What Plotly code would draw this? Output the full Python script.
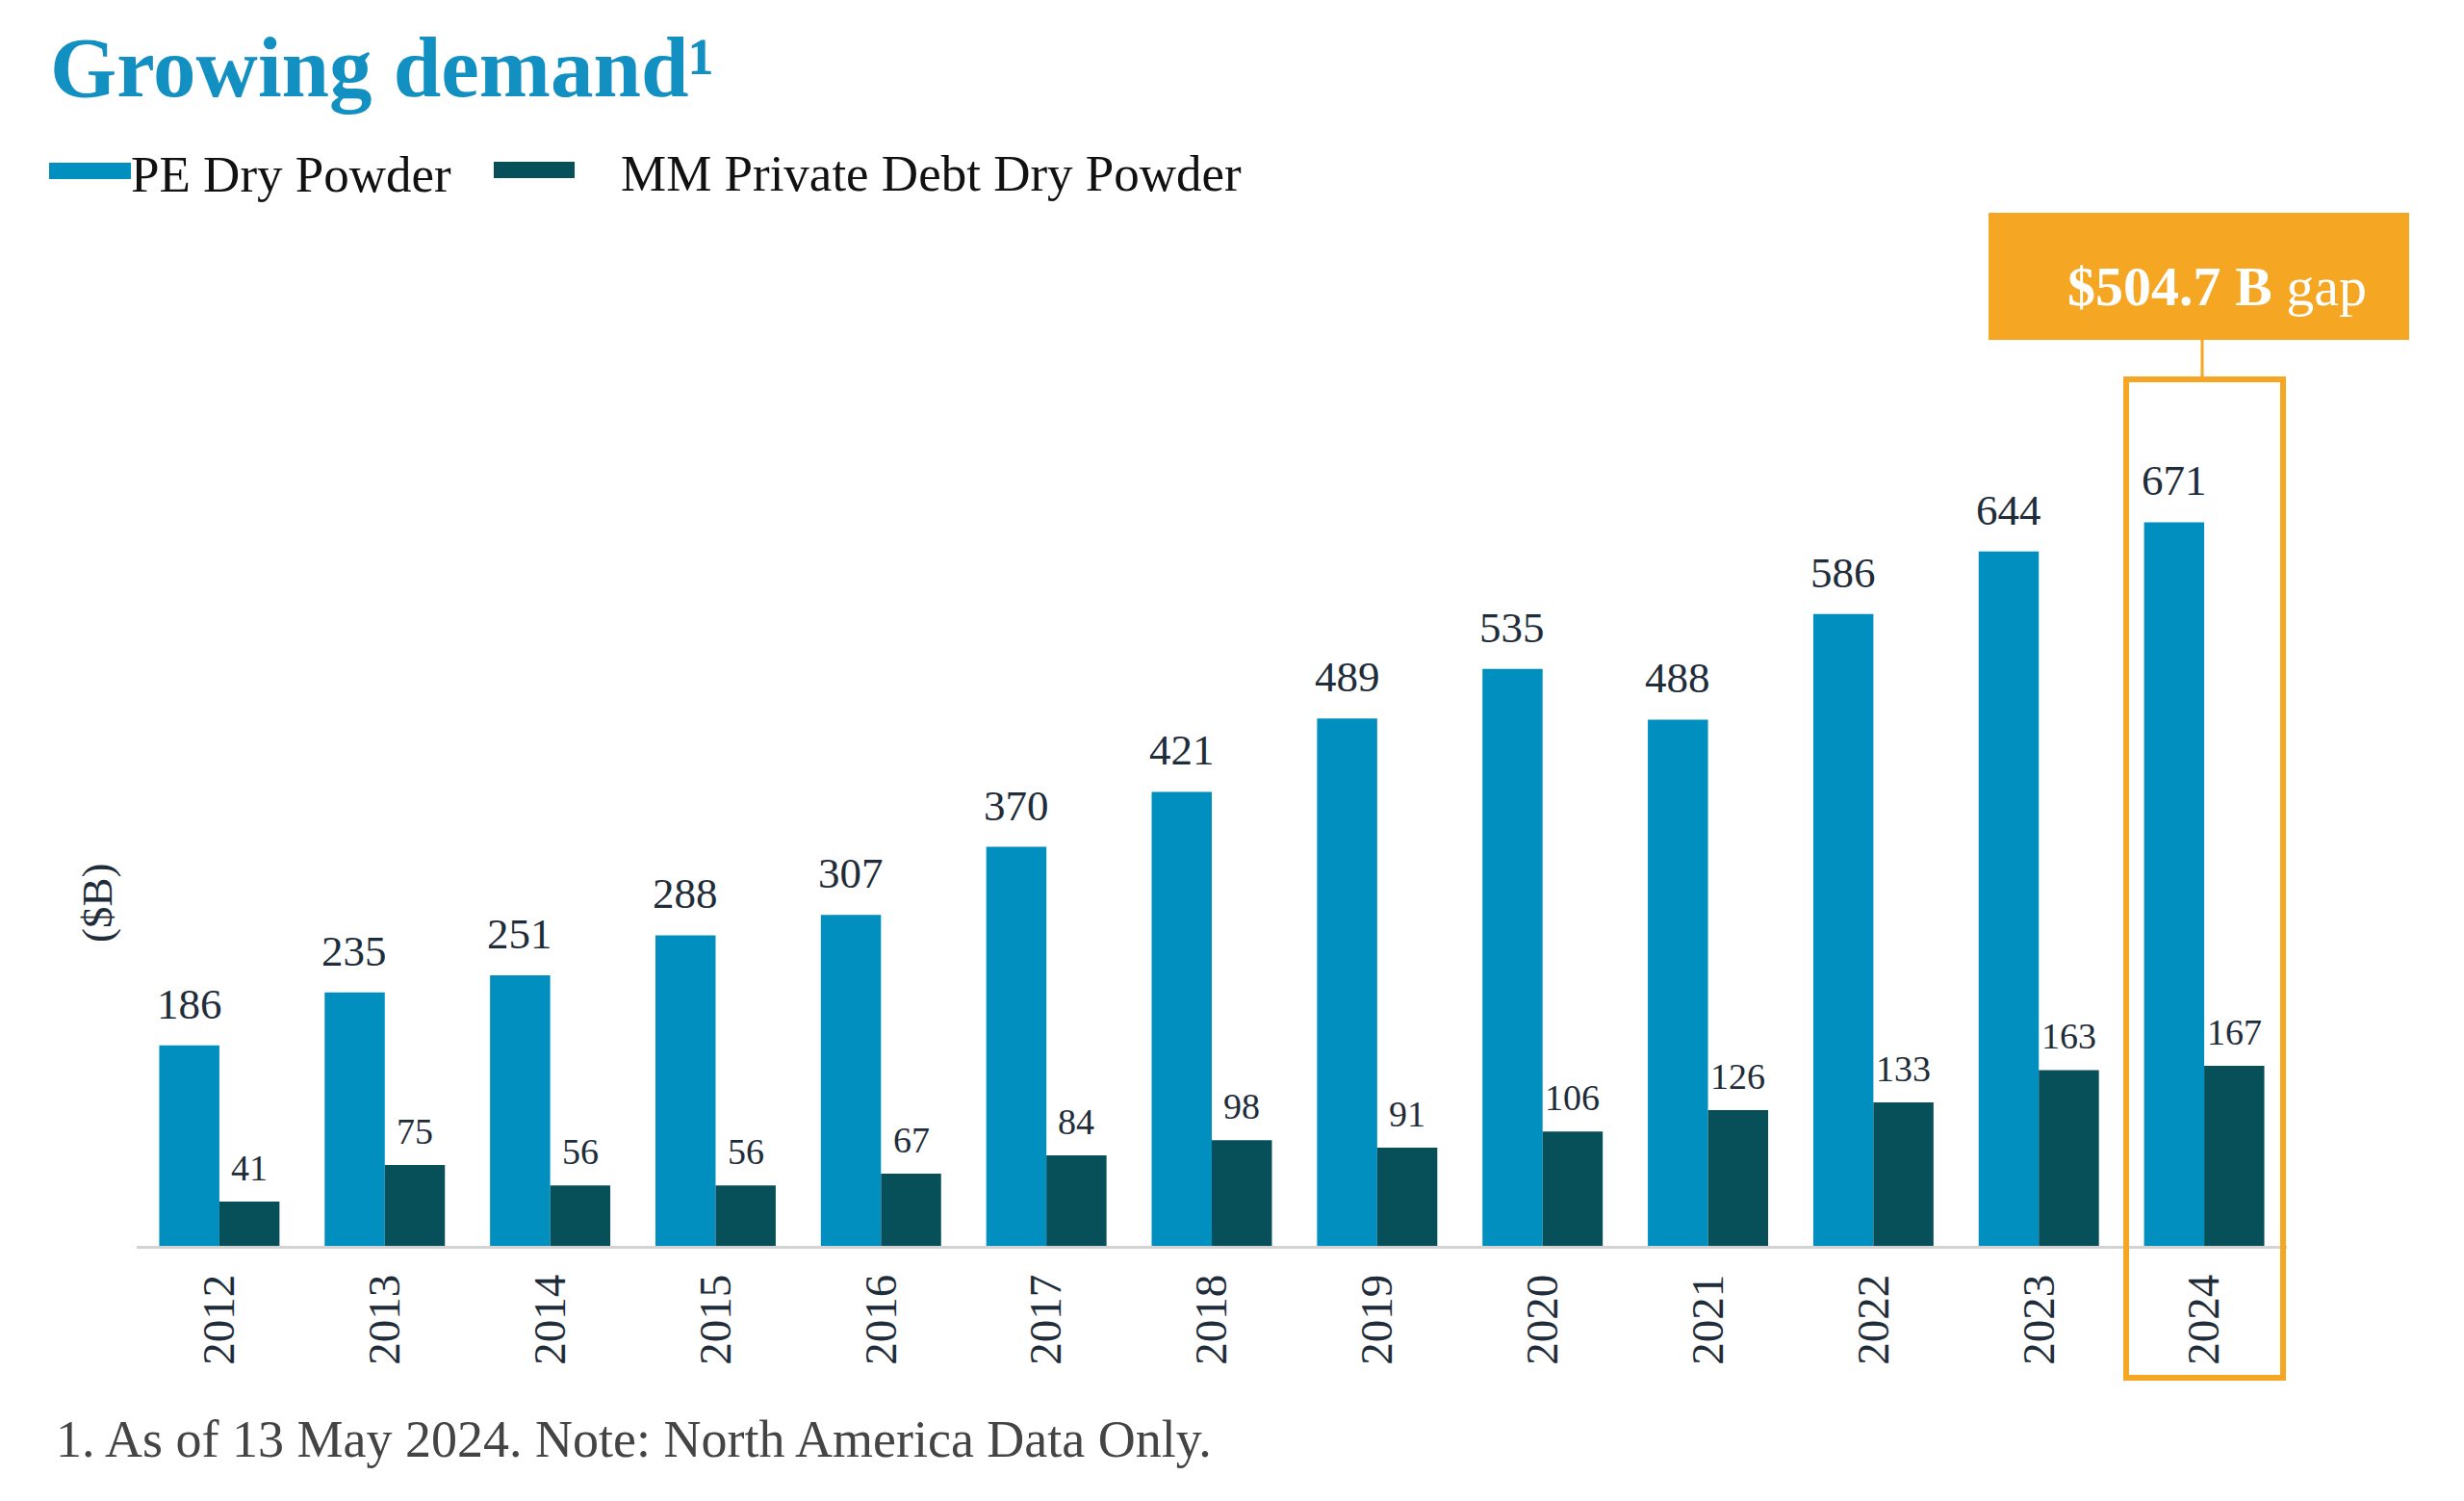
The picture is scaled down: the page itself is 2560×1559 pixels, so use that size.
import plotly.graph_objects as go

# ---------------- data ----------------
years = [str(y) for y in range(2012, 2025)]
pe_dry_powder = [186, 235, 251, 288, 307, 370, 421, 489, 535, 488, 586, 644, 671]
mm_debt_dry_powder = [41, 75, 56, 56, 67, 84, 98, 91, 106, 126, 133, 163, 167]
series_names = ["PE Dry Powder", "MM Private Debt Dry Powder"]
title_text = "Growing demand"
gap_bold = "$504.7 B"
gap_rest = "gap"
y_title = "($B)"
footnote = "1. As of 13 May 2024. Note: North America Data Only."

# ---------------- style ----------------
BLUE = "#008FBF"
DARK = "#07505A"
TITLE_BLUE = "#1290C2"
ORANGE = "#F5A623"
TXT = "#1F2D3B"
SERIF = "Liberation Serif"

W, H = 2560, 1559
L, R, T, B = 142, 184, 200, 265
PW, PH = W - L - R, H - T - B
PX_PER_UNIT = 1.12


def px(xp):
    return (xp - L) / PW


def py(yp):
    return (H - B - yp) / PH


fig = go.Figure()
fig.add_trace(go.Bar(x=years, y=pe_dry_powder, name=series_names[0],
                     marker=dict(color=BLUE, line=dict(width=0)), showlegend=False))
fig.add_trace(go.Bar(x=years, y=mm_debt_dry_powder, name=series_names[1],
                     marker=dict(color=DARK, line=dict(width=0)), showlegend=False))

annotations = []
half = 31.3
for i, v in enumerate(pe_dry_powder):
    annotations.append(dict(x=i, y=v, xref="x", yref="y", text=str(v), showarrow=False,
                            xanchor="center", yanchor="bottom", xshift=-half, yshift=16,
                            font=dict(family=SERIF, size=45, color=TXT)))
for i, v in enumerate(mm_debt_dry_powder):
    annotations.append(dict(x=i, y=v, xref="x", yref="y", text=str(v), showarrow=False,
                            xanchor="center", yanchor="bottom", xshift=half, yshift=12,
                            font=dict(family=SERIF, size=38, color=TXT)))

# title
annotations.append(dict(x=px(50), y=py(70), xref="paper", yref="paper",
                        text="<b>" + title_text + "¹</b>", showarrow=False,
                        xanchor="left", yanchor="middle",
                        font=dict(family=SERIF, size=89, color=TITLE_BLUE)))
# legend texts
annotations.append(dict(x=px(134), y=py(181), xref="paper", yref="paper",
                        text=series_names[0], showarrow=False, xanchor="left", yanchor="middle",
                        font=dict(family=SERIF, size=53, color="#111111")))
annotations.append(dict(x=px(643), y=py(180), xref="paper", yref="paper",
                        text=series_names[1], showarrow=False, xanchor="left", yanchor="middle",
                        font=dict(family=SERIF, size=53, color="#111111")))
# y title
annotations.append(dict(x=px(101), y=py(938), xref="paper", yref="paper",
                        text=y_title, showarrow=False, textangle=-90,
                        xanchor="center", yanchor="middle",
                        font=dict(family=SERIF, size=45, color=TXT)))
# gap label
annotations.append(dict(x=px(2303), y=py(297), xref="paper", yref="paper",
                        text="<b>" + gap_bold + "</b> " + gap_rest, showarrow=False,
                        xanchor="center", yanchor="middle",
                        font=dict(family=SERIF, size=58, color="white")))
# footnote
annotations.append(dict(x=px(56), y=py(1495), xref="paper", yref="paper",
                        text=footnote, showarrow=False, xanchor="left", yanchor="middle",
                        font=dict(family=SERIF, size=54, color="#444444")))

shapes = [
    # legend swatches
    dict(type="rect", xref="paper", yref="paper", x0=px(51), x1=px(136),
         y0=py(186), y1=py(169), fillcolor=BLUE, line=dict(width=0)),
    dict(type="rect", xref="paper", yref="paper", x0=px(513), x1=px(597),
         y0=py(185), y1=py(168), fillcolor=DARK, line=dict(width=0)),
    # orange label box
    dict(type="rect", xref="paper", yref="paper", x0=px(2066), x1=px(2503),
         y0=py(353), y1=py(221), fillcolor=ORANGE, line=dict(width=0), layer="below"),
    # connector
    dict(type="line", xref="paper", yref="paper", x0=px(2288), x1=px(2288),
         y0=py(353), y1=py(392), line=dict(color=ORANGE, width=3)),
    # highlight box around 2024
    dict(type="rect", xref="paper", yref="paper", x0=px(2209), x1=px(2372),
         y0=py(1431), y1=py(394), line=dict(color=ORANGE, width=6), fillcolor="rgba(0,0,0,0)"),
]

fig.update_layout(
    width=W, height=H,
    margin=dict(l=L, r=R, t=T, b=B, pad=0),
    paper_bgcolor="white", plot_bgcolor="white",
    barmode="group", bargap=0.273, bargroupgap=0,
    showlegend=False,
    annotations=annotations,
    shapes=shapes,
    xaxis=dict(type="category", range=[-0.5, len(years) - 0.5], autorange=False,
               showgrid=False, zeroline=False,
               showline=True, linecolor="#D3D3D3", linewidth=3,
               ticks="", tickangle=-90, ticklabelstandoff=8,
               tickfont=dict(family=SERIF, size=47, color=TXT)),
    yaxis=dict(range=[0, PH / PX_PER_UNIT], visible=False, showgrid=False, zeroline=False),
)

fig.write_html("out.html",
               config={"displayModeBar": False},
               post_script="document.body.style.margin='0';document.body.style.overflow='hidden';")
